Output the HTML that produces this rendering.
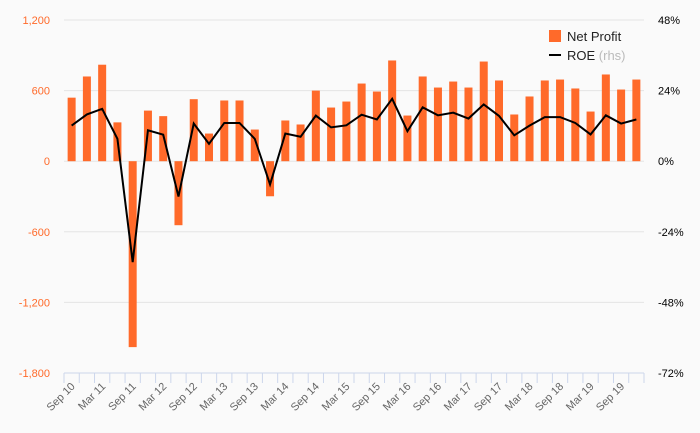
<!DOCTYPE html>
<html><head><meta charset="utf-8"><style>
body{margin:0;background:#fafafa;}
svg{display:block;font-family:"Liberation Sans",sans-serif;}
</style></head><body>
<svg id="chart" width="700" height="433">
<g id="grid"></g><g id="bars"></g><g id="line"></g><g id="axes"></g>
<g>
<rect x="549" y="30" width="12" height="12" fill="#ff6a2a"/>
<text x="567" y="41" font-size="13" fill="#222">Net Profit</text>
<rect x="549" y="54" width="12" height="2" fill="#000"/>
<text x="567" y="60" font-size="13" fill="#222">ROE <tspan fill="#bbb">(rhs)</tspan></text>
</g>
</svg>
<script>
const categories=["Sep 10","Dec 10","Mar 11","Jun 11","Sep 11","Dec 11","Mar 12","Jun 12","Sep 12","Dec 12","Mar 13","Jun 13","Sep 13","Dec 13","Mar 14","Jun 14","Sep 14","Dec 14","Mar 15","Jun 15","Sep 15","Dec 15","Mar 16","Jun 16","Sep 16","Dec 16","Mar 17","Jun 17","Sep 17","Dec 17","Mar 18","Jun 18","Sep 18","Dec 18","Mar 19","Jun 19","Sep 19","Dec 19"];
const netProfit=[540,720,820,330,-1580,430,383,-544,527,235,516,516,269,-298,346,312,600,456,507,660,592,856,388,720,626,677,626,847,686,397,550,686,694,618,422,737,609,694];
const roe=[12.1,15.9,17.8,7.6,-34.3,10.5,9.0,-12.0,12.8,5.9,13.0,13.0,7.6,-7.9,9.4,8.3,15.5,11.5,12.2,15.8,14.2,21.2,10.2,18.3,15.6,16.5,14.5,19.3,15.4,8.8,12.1,15.0,15.0,13.0,9.1,15.6,12.8,14.2];
const leftTicks=[1200,600,0,-600,-1200,-1800];
const leftTickLabels=["1,200","600","0","-600","-1,200","-1,800"];
const rightTickLabels=["48%","24%","0%","-24%","-48%","-72%"];
const NS="http://www.w3.org/2000/svg";
const X0=64,X1=644,Y0=20,Y1=373;
const band=(X1-X0)/categories.length;
const xc=i=>X0+band*(i+0.5);
const yL=v=>Y0+(1200-v)/3000*(Y1-Y0);
const yR=v=>Y0+(48-v)/120*(Y1-Y0);
function mk(tag,attrs,parent){const e=document.createElementNS(NS,tag);for(const k in attrs)e.setAttribute(k,attrs[k]);document.getElementById(parent).appendChild(e);return e;}
leftTicks.forEach((t,i)=>{
  const y=yL(t);
  if(t!==-1800){const g=mk('line',{x1:X0,x2:X1,y1:y,y2:y,stroke:'#e4e4e4','stroke-width':1},'grid');
  
  }
  const l=mk('text',{x:50,y:y+4,'text-anchor':'end','font-size':11,fill:'#ff6a2a'},'axes');l.textContent=leftTickLabels[i];
  
  
  const r=mk('text',{x:658,y:y+4,'font-size':11,fill:'#000'},'axes');r.textContent=rightTickLabels[i];
  
  
});
const ax=mk('line',{x1:X0,x2:X1,y1:Y1,y2:Y1,stroke:'#ccd6eb','stroke-width':1},'axes');


for(let i=0;i<=categories.length;i++){const x=X0+band*i;const t=mk('line',{x1:x,x2:x,y1:Y1,y2:Y1+10,stroke:'#ccd6eb'},'axes');

}
categories.forEach((c,i)=>{
  if(i%2===0){const x=xc(i)+4,y=Y1+14;
  const t=mk('text',{x:x,y:y,'text-anchor':'end','font-size':11,fill:'#666',transform:`rotate(-45 ${x} ${y})`},'axes');t.textContent=c;
  
  }
  const v=netProfit[i];const y0=yL(0),y=yL(v);
  const b=mk('rect',{x:xc(i)-4,y:Math.min(y0,y),width:8,height:Math.abs(y-y0),fill:'#ff6a2a'},'bars');
  
  
});
const p=mk('polyline',{points:roe.map((v,i)=>xc(i)+','+yR(v)).join(' '),fill:'none',stroke:'#000','stroke-width':2,'stroke-linejoin':'miter'},'line');


</script>
</body></html>
